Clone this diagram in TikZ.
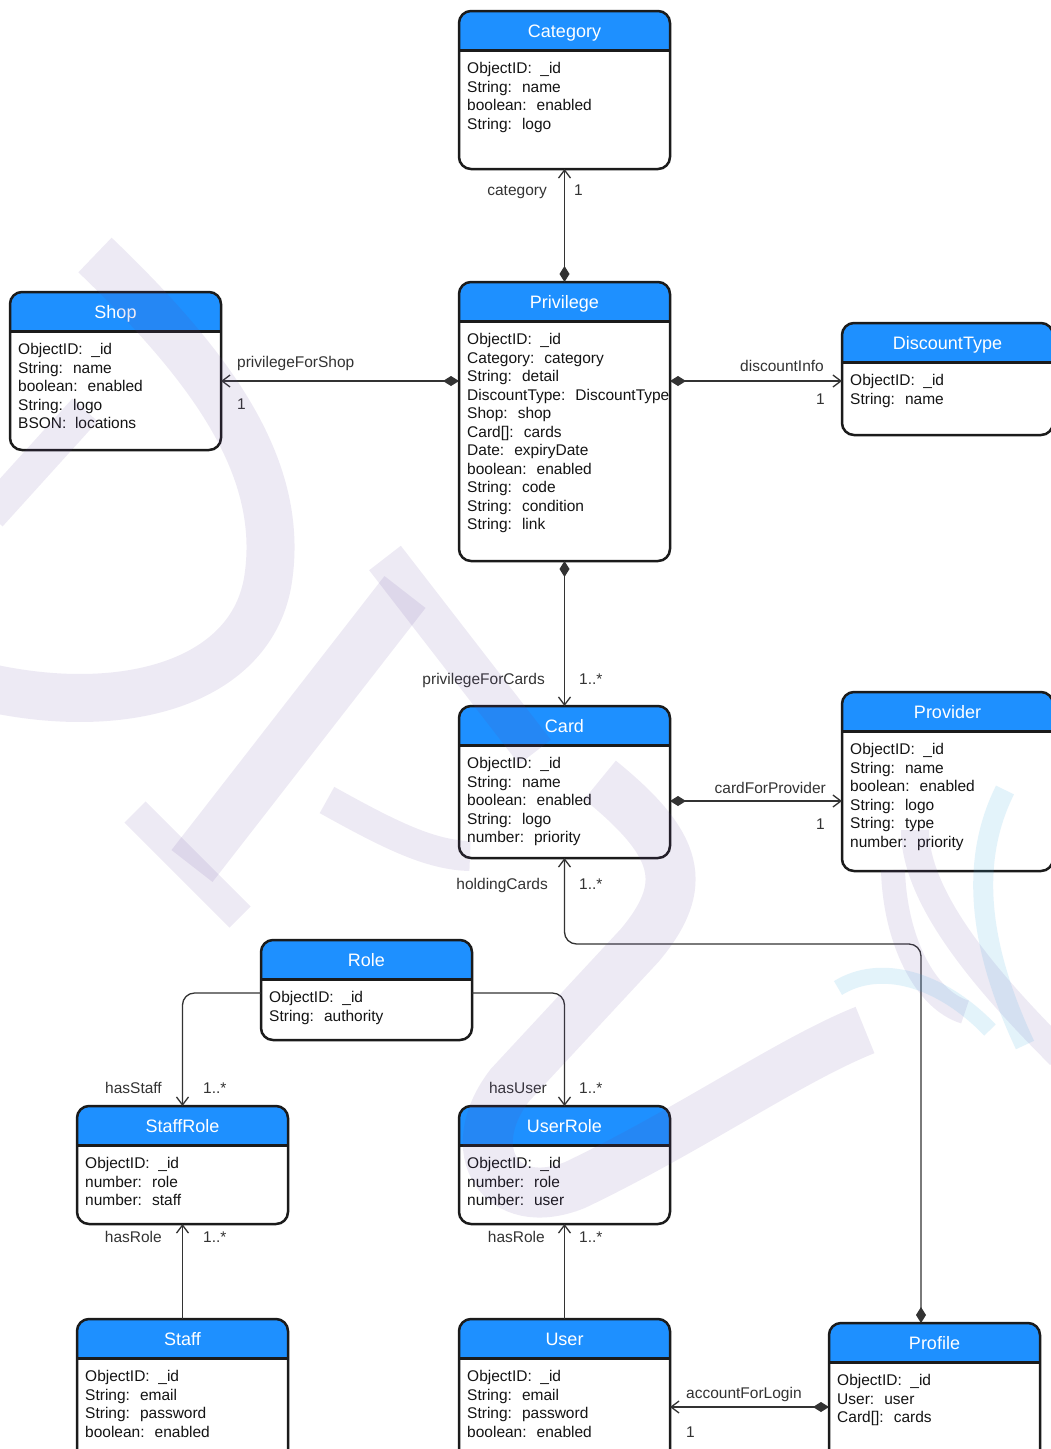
\documentclass[tikz,border=0pt]{standalone}
\usepackage{fontspec}
\setmainfont{Liberation Sans}
\usetikzlibrary{arrows.meta}
\definecolor{headblue}{RGB}{30,144,255}
\definecolor{boxline}{RGB}{27,27,27}
\definecolor{connline}{RGB}{51,51,51}
\definecolor{wmpurple}{RGB}{100,70,160}
\definecolor{wmblue}{RGB}{60,170,225}
\tikzset{
  classshape/.style={rectangle, inner sep=0pt, outer sep=0pt, minimum width=211pt, anchor=north west},
  boxborder/.style={draw=boxline, line width=2.5pt},
  titletext/.style={anchor=base, inner sep=0pt, text=white, font=\fontsize{18}{22}\selectfont},
  attrtext/.style={anchor=north west, inner sep=0pt, align=left, text=black!92, font=\fontsize{15.5}{18.5}\selectfont},
  lbl/.style={inner sep=0pt, text=connline, font=\fontsize{15.5}{18.5}\selectfont},
  conn/.style={draw=connline, line width=1.3pt},
  comp/.style={conn, {Diamond[length=16pt,width=10pt]}-{Straight Barb[length=8pt,width=12pt]}},
  plainarr/.style={conn, -{Straight Barb[length=8pt,width=12pt]}},
  wmstroke/.style={draw=wmpurple, draw opacity=0.11},
  wmbstroke/.style={draw=wmblue, draw opacity=0.14}
}
\newcommand{\umlclass}[6]{%
  \node[classshape, minimum height=#4] (#1) at (#2,#3) {};
  \begin{scope}
    \clip[rounded corners=12pt] (#1.north west) rectangle (#1.south east);
    \fill[headblue] (#1.north west) rectangle ([yshift=-39.5pt]#1.north east);
  \end{scope}
  \draw[boxborder] ([yshift=-39.5pt]#1.north west) -- ([yshift=-39.5pt]#1.north east);
  \draw[boxborder, rounded corners=12pt] (#1.north west) rectangle (#1.south east);
  \node[titletext] (#1-title) at ([yshift=-26.5pt]#1.north) {#5};
  \node[attrtext] (#1-attrs) at ([xshift=8pt,yshift=-51pt]#1.north west) {\rule{0pt}{11.5pt}#6};
}
\begin{document}
\begin{tikzpicture}[x=1pt,y=-1pt]
\useasboundingbox[fill=white] (0,0) rectangle (1051,1449);

\umlclass{cat}{459}{11}{158}{Category}{ObjectID:~ \_id\\String:~ name\\boolean:~ enabled\\String:~ logo}
\umlclass{priv}{459}{282}{279}{Privilege}{ObjectID:~ \_id\\Category:~ category\\String:~ detail\\DiscountType:~ DiscountType\\Shop:~ shop\\Card[]:~ cards\\Date:~ expiryDate\\boolean:~ enabled\\String:~ code\\String:~ condition\\String:~ link}
\umlclass{shop}{10}{292}{158}{Shop}{ObjectID:~ \_id\\String:~ name\\boolean:~ enabled\\String:~ logo\\BSON:~ locations}
\umlclass{dtype}{842}{323}{112}{DiscountType}{ObjectID:~ \_id\\String:~ name}
\umlclass{card}{459}{706}{152}{Card}{ObjectID:~ \_id\\String:~ name\\boolean:~ enabled\\String:~ logo\\number:~ priority}
\umlclass{prov}{842}{692}{179}{Provider}{ObjectID:~ \_id\\String:~ name\\boolean:~ enabled\\String:~ logo\\String:~ type\\number:~ priority}
\umlclass{role}{261}{940}{100}{Role}{ObjectID:~ \_id\\String:~ authority}
\umlclass{srole}{77}{1106}{118}{StaffRole}{ObjectID:~ \_id\\number:~ role\\number:~ staff}
\umlclass{urole}{459}{1106}{118}{UserRole}{ObjectID:~ \_id\\number:~ role\\number:~ user}
\umlclass{staff}{77}{1319}{150}{Staff}{ObjectID:~ \_id\\String:~ email\\String:~ password\\boolean:~ enabled}
\umlclass{user}{459}{1319}{150}{User}{ObjectID:~ \_id\\String:~ email\\String:~ password\\boolean:~ enabled}
\umlclass{prof}{829}{1323}{140}{Profile}{ObjectID:~ \_id\\User:~ user\\Card[]:~ cards}

% connectors
\draw[comp] (priv.north) -- (cat.south);
\draw[comp] ([yshift=-99pt]priv.north west) -- ([yshift=-89pt]shop.north east);
\draw[comp] ([yshift=-99pt]priv.north east) -- ([yshift=-58pt]dtype.north west);
\draw[comp] (priv.south) -- (card.north);
\draw[comp] ([yshift=-95pt]card.north east) -- ([yshift=-109pt]prov.north west);
\draw[comp, rounded corners=12pt] ([xshift=-13.5pt]prof.north) -- ++(0,-379) -| (card.south);
\draw[plainarr, rounded corners=12pt] ([yshift=-53pt]role.north west) -| (srole.north);
\draw[plainarr, rounded corners=12pt] ([yshift=-53pt]role.north east) -| (urole.north);
\draw[plainarr] (staff.north) -- (srole.south);
\draw[plainarr] (user.north) -- (urole.south);
\draw[comp] ([yshift=-84pt]prof.north west) -- ([yshift=-88pt]user.north east);

% labels
\node[lbl, anchor=base east] (l1) at (547,195.5) {category};
\node[lbl, anchor=base west] (l1m) at (574,195.5) {1};
\node[lbl, anchor=base west] (l2) at (237,367) {privilegeForShop};
\node[lbl, anchor=base west] (l2m) at (237,409.5) {1};
\node[lbl, anchor=base east] (l3) at (824,371.5) {discountInfo};
\node[lbl, anchor=base east] (l3m) at (825,404.5) {1};
\node[lbl, anchor=base east] (l4) at (545,684) {privilegeForCards};
\node[lbl, anchor=base west] (l4m) at (579,684) {1..*};
\node[lbl, anchor=base east] (l5) at (826,793.5) {cardForProvider};
\node[lbl, anchor=base east] (l5m) at (825,829.5) {1};
\node[lbl, anchor=base east] (l6) at (548,889) {holdingCards};
\node[lbl, anchor=base west] (l6m) at (579,889) {1..*};
\node[lbl, anchor=base east] (l7) at (162,1093) {hasStaff};
\node[lbl, anchor=base west] (l7m) at (203,1093) {1..*};
\node[lbl, anchor=base east] (l8) at (547,1093) {hasUser};
\node[lbl, anchor=base west] (l8m) at (579,1093) {1..*};
\node[lbl, anchor=base east] (l9) at (162,1242.5) {hasRole};
\node[lbl, anchor=base west] (l9m) at (203,1242.5) {1..*};
\node[lbl, anchor=base east] (l10) at (545,1242.5) {hasRole};
\node[lbl, anchor=base west] (l10m) at (579,1242.5) {1..*};
\node[lbl, anchor=base west] (l11) at (686,1398.5) {accountForLogin};
\node[lbl, anchor=base west] (l11m) at (686,1437.5) {1};

% watermark
\draw[wmstroke, line width=48pt] (95,255) .. controls (215,370) and (285,470) .. (268,580) .. controls (252,680) and (130,718) .. (-10,688);
\draw[wmstroke, line width=34pt] (-10,515) -- (85,410);
\draw[wmstroke, line width=40pt] (385,558) -- (535,752);
\draw[wmstroke, line width=52pt] (405,592) -- (192,866);
\draw[wmstroke, line width=30pt] (135,812) -- (240,917);
\draw[wmstroke, line width=30pt] (327,800) .. controls (390,835) and (430,855) .. (470,856);
\draw[wmstroke, line width=50pt] (600,780) .. controls (680,845) and (690,885) .. (640,945) -- (510,1085) .. controls (460,1150) and (500,1215) .. (575,1185) .. controls (690,1130) and (790,1060) .. (865,1030);
\draw[wmstroke, line width=28pt] (915,830) .. controls (915,900) and (990,985) .. (1060,1055);
\draw[wmstroke, line width=24pt] (893,870) .. controls (895,940) and (925,1000) .. (965,1012);
\draw[wmbstroke, line width=20pt] (1005,790) .. controls (965,870) and (985,960) .. (1025,1045);
\draw[wmbstroke, line width=16pt] (838,988) .. controls (880,962) and (940,978) .. (990,1030);
\end{tikzpicture}
\end{document}
